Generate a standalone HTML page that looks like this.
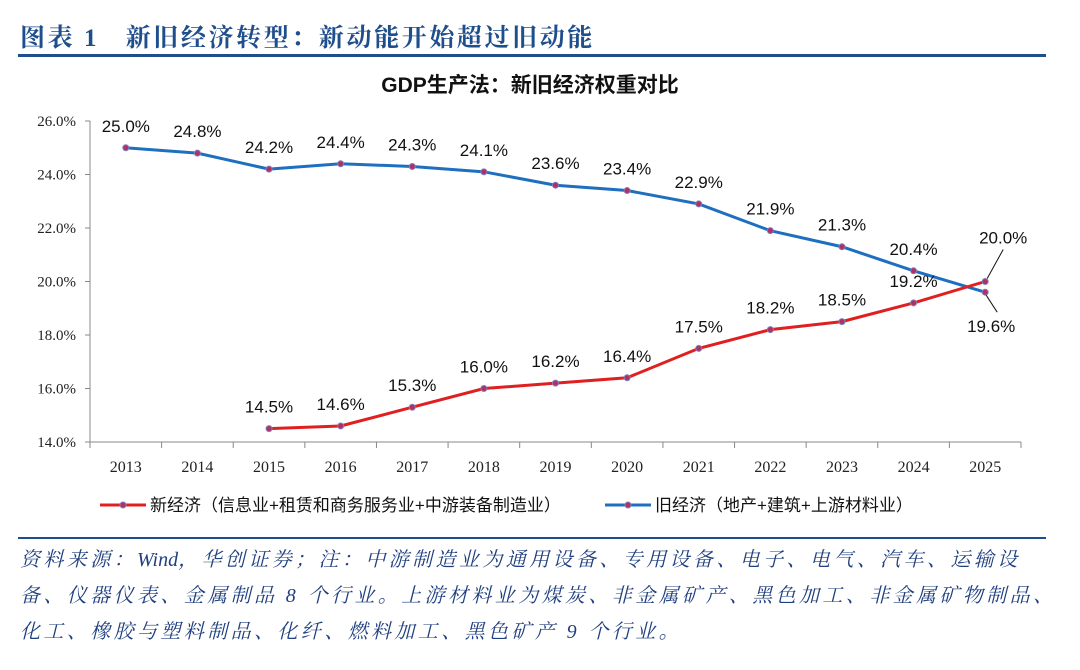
<!DOCTYPE html>
<html><head><meta charset="utf-8"><style>
body{margin:0;width:1080px;height:670px;background:#fff;overflow:hidden;position:relative;font-family:"Liberation Sans","Noto Sans CJK SC",sans-serif}
.t{position:absolute;white-space:nowrap}
</style></head><body>
<div class="t" style="left:20px;top:18px;font:bold 25px 'Liberation Serif','Noto Serif CJK SC',serif;color:#1f4e8c;letter-spacing:2.6px">图表 1&nbsp;&nbsp;&nbsp;新旧经济转型：新动能开始超过旧动能</div>
<div style="position:absolute;left:18px;top:54px;width:1028px;height:3px;background:#1f4e8c"></div>
<svg id="c" width="1080" height="540" style="position:absolute;left:0;top:0"></svg>
<div style="position:absolute;left:18px;top:537px;width:1028px;height:2px;background:#1f4e8c"></div>
<div style="position:absolute;left:20px;top:542px;width:1060px;white-space:nowrap;font:italic 20px/36px 'Liberation Serif','Noto Serif CJK SC',serif;letter-spacing:3.4px;color:#1f3f7f">资料来源：<span style="letter-spacing:0">Wind</span>，华创证券；注：中游制造业为通用设备、专用设备、电子、电气、汽车、运输设<br>备、仪器仪表、金属制品 8 个行业。上游材料业为煤炭、非金属矿产、黑色加工、非金属矿物制品、<br>化工、橡胶与塑料制品、化纤、燃料加工、黑色矿产 9 个行业。</div>
<script>
const years=["2013","2014","2015","2016","2017","2018","2019","2020","2021","2022","2023","2024","2025"];
const oldEcon=[25.0,24.8,24.2,24.4,24.3,24.1,23.6,23.4,22.9,21.9,21.3,20.4,19.6];
const newEcon=[null,null,14.5,14.6,15.3,16.0,16.2,16.4,17.5,18.2,18.5,19.2,20.0];
const yTicks=[14,16,18,20,22,24,26];
const NS="http://www.w3.org/2000/svg",svg=document.getElementById('c');
const x0=90,x1=1021,cw=(x1-x0)/years.length;
const X=i=>x0+cw*(i+0.5),Y=v=>442-(v-14)*(321/12);
function el(t,a,txt){const e=document.createElementNS(NS,t);for(const k in a)e.setAttribute(k,a[k]);if(txt!=null)e.textContent=txt;svg.appendChild(e);return e;}
let e=el('text',{x:530,y:92,'text-anchor':'middle','font-size':21,'font-weight':'bold',fill:'#111'},'GDP生产法：新旧经济权重对比');

e=el('line',{x1:x0,y1:121,x2:x0,y2:442,stroke:'#888'});
e=el('line',{x1:x0,y1:442,x2:x1,y2:442,stroke:'#888'});
yTicks.forEach(v=>{el('line',{x1:x0-5,y1:Y(v),x2:x0,y2:Y(v),stroke:'#888'});
e=el('text',{x:x0-14,y:Y(v)+5,'text-anchor':'end','font-size':15,'font-family':'Liberation Serif,serif',fill:'#222'},v.toFixed(1)+'%');
});
for(let i=0;i<=years.length;i++)el('line',{x1:x0+cw*i,y1:442,x2:x0+cw*i,y2:448,stroke:'#888'});
years.forEach((y,i)=>{e=el('text',{x:X(i),y:472,'text-anchor':'middle','font-size':16,'font-family':'Liberation Serif,serif',fill:'#222'},y);
});
function series(d,col,name,lab){let pts=[];d.forEach((v,i)=>{if(v!=null)pts.push(X(i)+','+Y(v));});
e=el('polyline',{points:pts.join(' '),fill:'none',stroke:col,'stroke-width':3});
d.forEach((v,i)=>{if(v==null)return;e=el('circle',{cx:X(i),cy:Y(v),r:3,fill:'#b03060',stroke:'#8080c0'});
let ly=lab(i,v);e=el('text',{x:X(i)+(i==12?(name=='new'?18:6):0),y:ly,'text-anchor':'middle','font-size':17,fill:'#111'},v.toFixed(1)+'%');
});}
series(oldEcon,'#1f6fc0','old',(i,v)=>i==12?Y(v)+40:Y(v)-16);
series(newEcon,'#e02020','new',(i,v)=>i==12?Y(v)-38:Y(v)-16);
el('line',{x1:X(12)+2,y1:Y(20)-3,x2:X(12)+18,y2:Y(20)-32,stroke:'#111'});
el('line',{x1:X(12)+1,y1:Y(19.6)+3,x2:X(12)+12,y2:Y(19.6)+20,stroke:'#111'});
e=el('line',{x1:100,y1:505,x2:146,y2:505,stroke:'#e02020','stroke-width':3});
el('circle',{cx:123,cy:505,r:3,fill:'#b03060',stroke:'#8080c0'});
e=el('text',{x:150,y:511,'font-size':17,fill:'#111'},'新经济（信息业+租赁和商务服务业+中游装备制造业）');
e=el('line',{x1:605,y1:505,x2:651,y2:505,stroke:'#1f6fc0','stroke-width':3});
el('circle',{cx:628,cy:505,r:3,fill:'#b03060',stroke:'#8080c0'});
e=el('text',{x:655,y:511,'font-size':17,fill:'#111'},'旧经济（地产+建筑+上游材料业）');
</script>
</body></html>
